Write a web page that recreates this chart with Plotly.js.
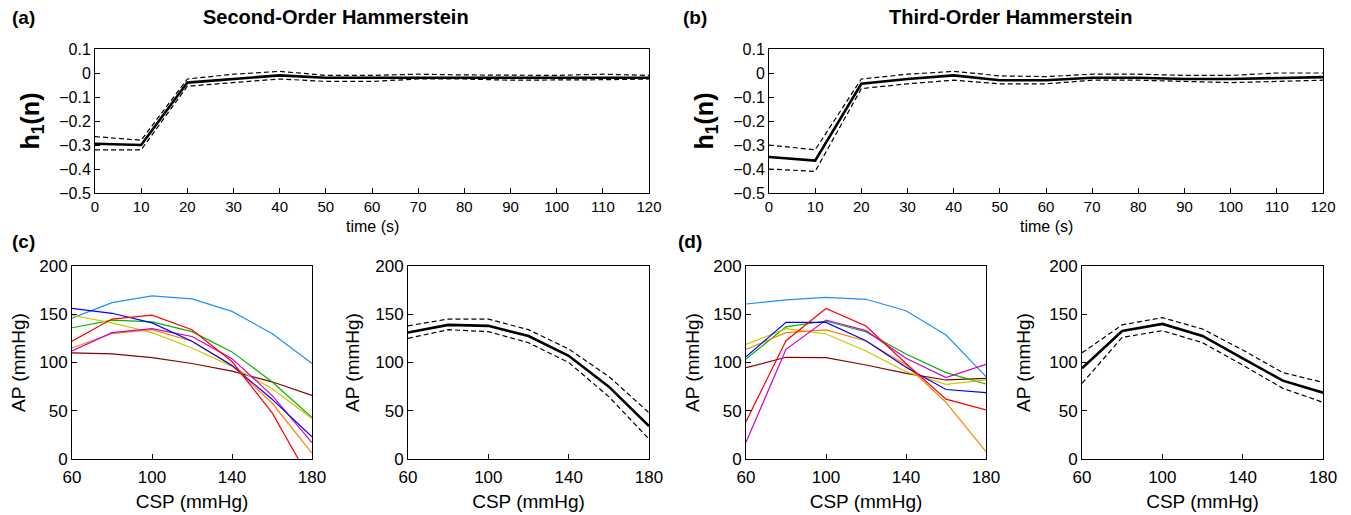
<!DOCTYPE html>
<html>
<head>
<meta charset="utf-8">
<script src="https://cdn.plot.ly/plotly-3.0.1.min.js"></script>
<style>html,body{margin:0;padding:0;background:#fff;}#chart{width:1351px;height:515px;}</style>
</head>
<body>
<div id="chart"></div>
<script>
// ---------- data ----------
const timeS = [0, 10, 20, 30, 40, 50, 60, 70, 80, 90, 100, 110, 120];

// (a) Second-order Hammerstein: h1(n) mean and confidence bounds
const soMean  = [-0.295, -0.300, -0.040, -0.025, -0.010, -0.020, -0.020, -0.018, -0.018, -0.020, -0.020, -0.018, -0.020];
const soUpper = [-0.265, -0.280, -0.025, -0.005,  0.007, -0.010, -0.010, -0.005, -0.008, -0.010, -0.010, -0.005, -0.010];
const soLower = [-0.320, -0.320, -0.055, -0.040, -0.025, -0.035, -0.035, -0.025, -0.025, -0.030, -0.030, -0.028, -0.025];

// (b) Third-order Hammerstein: h1(n) mean and confidence bounds
const toMean  = [-0.350, -0.365, -0.045, -0.025, -0.010, -0.030, -0.030, -0.020, -0.020, -0.025, -0.025, -0.020, -0.017];
const toUpper = [-0.300, -0.320, -0.025, -0.005,  0.007, -0.012, -0.015, -0.005, -0.005, -0.010, -0.010,  0.000,  0.000];
const toLower = [-0.400, -0.410, -0.065, -0.045, -0.030, -0.045, -0.045, -0.030, -0.030, -0.035, -0.040, -0.035, -0.030];

const csp = [60, 80, 100, 120, 140, 160, 180];

// (c) second-order static nonlinearity, individual subjects (AP, mmHg)
const soSubj1 = [146, 162, 169, 166, 153, 130, 99];   // light blue
const soSubj2 = [156, 151, 141, 122, 97, 62, 23];     // blue
const soSubj3 = [122, 145, 149, 134, 101, 48, -25];   // red
const soSubj4 = [136, 144, 142, 132, 111, 80, 43];    // green
const soSubj5 = [149, 141, 131, 115, 96, 73, 42];     // yellow
const soSubj6 = [115, 130, 134, 122, 97, 58, 6];      // orange
const soSubj7 = [112, 131, 135, 127, 104, 66, 17];    // magenta
const soSubj8 = [110, 109, 105, 99, 91, 80, 66];      // dark red
// (c) mean and bounds
const soNlMean  = [131, 139, 138, 127.5, 107, 75, 34];
const soNlUpper = [138, 145, 145, 134, 114, 85.5, 48];
const soNlLower = [125, 134, 132, 120.5, 100, 64.6, 20.7];

// (d) third-order static nonlinearity, individual subjects
const toSubj1 = [160.6, 164.8, 167.5, 165.5, 153.7, 128.5, 85.3];
const toSubj2 = [106, 141.6, 141.6, 122.6, 95, 72, 68.7];
const toSubj3 = [38.7, 122.6, 156, 137.8, 99, 62, 50.8];
const toSubj4 = [103.6, 137, 143, 131.6, 108.8, 89.5, 77.7];
const toSubj5 = [118.8, 135, 129.5, 112, 90.5, 77.4, 81.9];
const toSubj6 = [113.6, 131, 133.7, 122.3, 97.4, 58.7, 7.6];
const toSubj7 = [17.3, 113.6, 144, 133, 104.3, 84.3, 98];
const toSubj8 = [94.6, 105.4, 105, 97.4, 88.8, 81.9, 83.6];
// (d) mean and bounds
const toNlMean  = [94, 132.6, 140, 127.5, 104.3, 81.2, 68.7];
const toNlUpper = [110, 139, 146.5, 134.7, 113, 89.5, 79.4];
const toNlLower = [78.4, 126, 133, 120.5, 97.4, 73.2, 58.7];

const cspTicks = [60, 100, 140, 180];

// ---------- styling ----------
const FONT = 'Liberation Sans, Arial, Helvetica, sans-serif';
const W = 1351, H = 515;
const px = v => v / W;
const py = v => 1 - v / H;

function meanTraces(x, mean, up, lo, xa, ya) {
  return [
    {x: x, y: up, xaxis: xa, yaxis: ya, mode: 'lines', line: {color: '#000', width: 1.2, dash: '5px,3px'}, hoverinfo: 'skip'},
    {x: x, y: lo, xaxis: xa, yaxis: ya, mode: 'lines', line: {color: '#000', width: 1.2, dash: '5px,3px'}, hoverinfo: 'skip'},
    {x: x, y: mean, xaxis: xa, yaxis: ya, mode: 'lines', line: {color: '#000', width: 2.6}}
  ];
}
// drawing order (bottom to top) with matching colours
function subjTraces(list, xa, ya) {
  const cols = ['#8B0000', '#1E90FF', '#00B400', '#C8C800', '#FF8000', '#CC00CC', '#0000FF', '#FF0000'];
  return list.map((s, i) => ({x: csp, y: s, xaxis: xa, yaxis: ya, mode: 'lines',
    line: {color: cols[i], width: 1.2}}));
}

const traces = [].concat(
  meanTraces(timeS, soMean, soUpper, soLower, 'x', 'y'),
  meanTraces(timeS, toMean, toUpper, toLower, 'x2', 'y2'),
  subjTraces([soSubj8, soSubj1, soSubj4, soSubj5, soSubj6, soSubj7, soSubj2, soSubj3], 'x3', 'y3'),
  meanTraces(csp, soNlMean, soNlUpper, soNlLower, 'x4', 'y4'),
  subjTraces([toSubj8, toSubj1, toSubj4, toSubj5, toSubj6, toSubj7, toSubj2, toSubj3], 'x5', 'y5'),
  meanTraces(csp, toNlMean, toNlUpper, toNlLower, 'x6', 'y6')
);

const axBase = {
  showline: true, linecolor: '#000', linewidth: 1, mirror: true,
  ticks: 'inside', ticklen: 5, tickcolor: '#000', tickwidth: 1,
  showgrid: false, zeroline: false, automargin: false, fixedrange: true,
  tickfont: {family: FONT, size: 16, color: '#000'}
};
function ax(extra) { return Object.assign({}, axBase, extra); }

const topY = [py(193), py(49)];
const botY = [py(459), py(266)];
const bigTick = {family: FONT, size: 17, color: '#000'};
const topXTick = {family: FONT, size: 15, color: '#000'};

const layout = {
  width: W, height: H,
  margin: {l: 0, r: 0, t: 0, b: 0},
  paper_bgcolor: '#fff', plot_bgcolor: '#fff',
  showlegend: false,
  font: {family: FONT, color: '#000'},
  xaxis:  ax({domain: [px(95), px(649)], range: [0, 120], dtick: 10, anchor: 'y', tickfont: topXTick}),
  yaxis:  ax({domain: topY, range: [-0.5, 0.1], dtick: 0.1, anchor: 'x',
    title: {text: '<b>h<sub>1</sub>(n)</b>', font: {size: 25}, standoff: 12}}),
  xaxis2: ax({domain: [px(769), px(1323)], range: [0, 120], dtick: 10, anchor: 'y2', tickfont: topXTick}),
  yaxis2: ax({domain: topY, range: [-0.5, 0.1], dtick: 0.1, anchor: 'x2',
    title: {text: '<b>h<sub>1</sub>(n)</b>', font: {size: 25}, standoff: 12}}),
  xaxis3: ax({domain: [px(72), px(312)], range: [60, 180], tickvals: cspTicks, anchor: 'y3', ticklabelstandoff: 3,
    tickfont: bigTick, title: {text: 'CSP (mmHg)', font: {size: 19}, standoff: 8}}),
  yaxis3: ax({domain: botY, range: [0, 200], dtick: 50, anchor: 'x3',
    tickfont: bigTick, title: {text: 'AP (mmHg)', font: {size: 19}, standoff: 8}}),
  xaxis4: ax({domain: [px(408), px(649)], range: [60, 180], tickvals: cspTicks, anchor: 'y4', ticklabelstandoff: 3,
    tickfont: bigTick, title: {text: 'CSP (mmHg)', font: {size: 19}, standoff: 8}}),
  yaxis4: ax({domain: botY, range: [0, 200], dtick: 50, anchor: 'x4',
    tickfont: bigTick, title: {text: 'AP (mmHg)', font: {size: 19}, standoff: 10}}),
  xaxis5: ax({domain: [px(746), px(986)], range: [60, 180], tickvals: cspTicks, anchor: 'y5', ticklabelstandoff: 3,
    tickfont: bigTick, title: {text: 'CSP (mmHg)', font: {size: 19}, standoff: 8}}),
  yaxis5: ax({domain: botY, range: [0, 200], dtick: 50, anchor: 'x5',
    tickfont: bigTick, title: {text: 'AP (mmHg)', font: {size: 19}, standoff: 8}}),
  xaxis6: ax({domain: [px(1082), px(1323)], range: [60, 180], tickvals: cspTicks, anchor: 'y6', ticklabelstandoff: 3,
    tickfont: bigTick, title: {text: 'CSP (mmHg)', font: {size: 19}, standoff: 8}}),
  yaxis6: ax({domain: botY, range: [0, 200], dtick: 50, anchor: 'x6',
    tickfont: bigTick, title: {text: 'AP (mmHg)', font: {size: 19}, standoff: 13}}),
  annotations: [
    {text: '<b>(a)</b>', x: px(10), y: py(17), xref: 'paper', yref: 'paper', xanchor: 'left', yanchor: 'middle', showarrow: false, font: {size: 19}},
    {text: '<b>(b)</b>', x: px(681), y: py(17), xref: 'paper', yref: 'paper', xanchor: 'left', yanchor: 'middle', showarrow: false, font: {size: 19}},
    {text: '<b>(c)</b>', x: px(10), y: py(241), xref: 'paper', yref: 'paper', xanchor: 'left', yanchor: 'middle', showarrow: false, font: {size: 19}},
    {text: '<b>(d)</b>', x: px(676), y: py(241), xref: 'paper', yref: 'paper', xanchor: 'left', yanchor: 'middle', showarrow: false, font: {size: 19}},
    {text: '<b>Second-Order Hammerstein</b>', x: px(336), y: py(17), xref: 'paper', yref: 'paper', xanchor: 'center', yanchor: 'middle', showarrow: false, font: {size: 20}},
    {text: '<b>Third-Order Hammerstein</b>', x: px(1010), y: py(17), xref: 'paper', yref: 'paper', xanchor: 'center', yanchor: 'middle', showarrow: false, font: {size: 20}},
    {text: 'time (s)', x: px(372), y: py(226), xref: 'paper', yref: 'paper', xanchor: 'center', yanchor: 'middle', showarrow: false, font: {size: 16}},
    {text: 'time (s)', x: px(1046), y: py(226), xref: 'paper', yref: 'paper', xanchor: 'center', yanchor: 'middle', showarrow: false, font: {size: 16}}
  ]
};

Plotly.newPlot('chart', traces, layout, {staticPlot: true, displayModeBar: false});
</script>
</body>
</html>
